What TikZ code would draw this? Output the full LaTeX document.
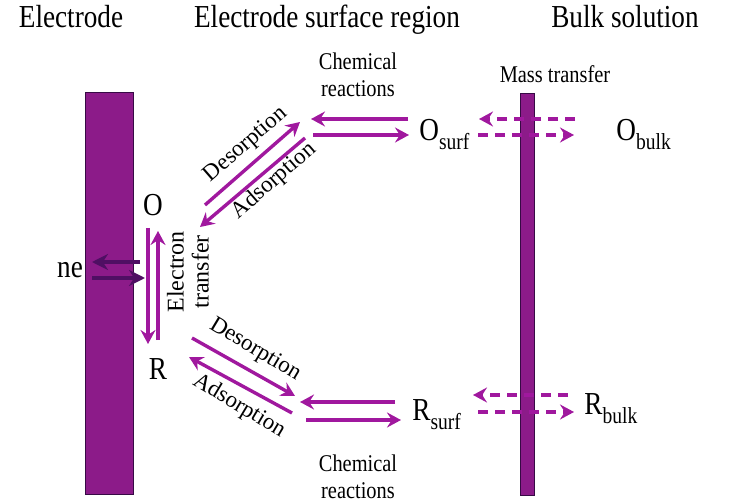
\documentclass[tikz,border=0pt]{standalone}
\usepackage{fontspec}
\setmainfont{Liberation Serif}[FakeStretch=0.85]
\newfontfamily\uprightserif{Liberation Serif}
\usetikzlibrary{arrows.meta,positioning}
\definecolor{rxnpurple}{HTML}{A0189E}
\definecolor{electrodefill}{HTML}{8C1B89}
\definecolor{electrondark}{HTML}{4F0F63}
\newcommand{\subtext}[1]{\raisebox{-4.5pt}{\fontsize{11.5}{13}\selectfont #1}}

\begin{document}
\begin{tikzpicture}[x=0.5pt,y=-0.5pt,
    rxnarrow/.style={draw=rxnpurple,line width=1.7pt,-{Stealth[length=7pt,width=7.5pt,inset=2.4pt]}},
    massarrow/.style={rxnarrow,dash pattern=on 5pt off 3.5pt},
    nearrow/.style={draw=electrondark,line width=2pt,-{Stealth[length=8pt,width=8pt,inset=2.6pt]}},
    heading/.style={font=\fontsize{16}{19}\selectfont,anchor=base,inner sep=0pt},
    species/.style={font=\fontsize{16}{19}\selectfont,inner sep=0pt},
    proclabel/.style={font=\fontsize{12}{13.5}\selectfont,align=center,inner sep=0pt},
    sidelabel/.style={font=\uprightserif\fontsize{11.5}{12.5}\selectfont,inner sep=0pt},
    bar/.style={fill=electrodefill,draw=electrondark!70!black,line width=0.5pt}]
  \useasboundingbox (0,0) rectangle (738,502);

  % regions
  \node[heading] (hElectrode) at (71,28) {Electrode};
  \node[heading] (hSurface) at (327,28) {Electrode surface region};
  \node[heading] (hBulk) at (625,28) {Bulk solution};

  % electrode and boundary of the surface region
  \draw[bar] (85,93) rectangle (133,494);
  \draw[bar] (520,94) rectangle (534,495);

  % species
  \node[species] (O) at (153,205) {O};
  \node[species] (R) at (158,369) {R};
  \node[species,anchor=base] (ne) at (70,278) {ne};
  \node[species,anchor=base west] (Osurf) at (419,141) {O\subtext{surf}};
  \node[species,anchor=base west] (Obulk) at (616,141) {O\subtext{bulk}};
  \node[species,anchor=base west] (Rsurf) at (412,420) {R\subtext{surf}};
  \node[species,anchor=base west] (Rbulk) at (584,414) {R\subtext{bulk}};

  % process labels
  \node[proclabel] (chemTop) at (358,75) {Chemical\\reactions};
  \node[proclabel] (chemBot) at (358,477) {Chemical\\reactions};
  \node[proclabel,anchor=base] (massLabel) at (555,83) {Mass transfer};
  \node[sidelabel,rotate=41] (desTop) at (246,145) {Desorption};
  \node[sidelabel,rotate=41] (adsTop) at (274,181) {Adsorption};
  \node[sidelabel,rotate=-31] (desBot) at (255,350) {Desorption};
  \node[sidelabel,rotate=-31] (adsBot) at (239,406) {Adsorption};
  \node[sidelabel,rotate=90,align=center,font=\uprightserif\fontsize{12}{12.5}\selectfont]
    (eTransfer) at (188,272) {Electron\\transfer};

  % arrow ends
  \coordinate (neOutA) at (140,262); \coordinate (neOutB) at (92,262);
  \coordinate (neInA) at (92,278);   \coordinate (neInB) at (145,278);
  \coordinate (redA) at (148,228);   \coordinate (redB) at (148,344);
  \coordinate (oxA) at (158,340);    \coordinate (oxB) at (158,231);
  \coordinate (desTopA) at (205,205); \coordinate (desTopB) at (300,122);
  \coordinate (adsTopA) at (305,138); \coordinate (adsTopB) at (200,227);
  \coordinate (desBotA) at (192,338); \coordinate (desBotB) at (295,396);
  \coordinate (adsBotA) at (292,413); \coordinate (adsBotB) at (189,357);
  \coordinate (chemTopLA) at (408,119); \coordinate (chemTopLB) at (311,119);
  \coordinate (chemTopRA) at (313,135); \coordinate (chemTopRB) at (409,135);
  \coordinate (chemBotLA) at (395,402); \coordinate (chemBotLB) at (300,402);
  \coordinate (chemBotRA) at (306,420); \coordinate (chemBotRB) at (401,420);
  \coordinate (massTopLA) at (575,119); \coordinate (massTopLB) at (479,119);
  \coordinate (massTopRA) at (478,135); \coordinate (massTopRB) at (574,135);
  \coordinate (massBotLA) at (568,395); \coordinate (massBotLB) at (473,395);
  \coordinate (massBotRA) at (478,412); \coordinate (massBotRB) at (574,412);

  % electron exchange with the electrode
  \draw[nearrow] (neOutA) -- (neOutB);
  \draw[nearrow] (neInA) -- (neInB);
  \draw[rxnarrow] (redA) -- (redB);
  \draw[rxnarrow] (oxA) -- (oxB);

  % adsorption / desorption
  \draw[rxnarrow] (desTopA) -- (desTopB);
  \draw[rxnarrow] (adsTopA) -- (adsTopB);
  \draw[rxnarrow] (desBotA) -- (desBotB);
  \draw[rxnarrow] (adsBotA) -- (adsBotB);

  % chemical reactions
  \draw[rxnarrow] (chemTopLA) -- (chemTopLB);
  \draw[rxnarrow] (chemTopRA) -- (chemTopRB);
  \draw[rxnarrow] (chemBotLA) -- (chemBotLB);
  \draw[rxnarrow] (chemBotRA) -- (chemBotRB);

  % mass transfer
  \draw[massarrow] (massTopLA) -- (massTopLB);
  \draw[massarrow] (massTopRA) -- (massTopRB);
  \draw[massarrow] (massBotLA) -- (massBotLB);
  \draw[massarrow] (massBotRA) -- (massBotRB);
\end{tikzpicture}
\end{document}
